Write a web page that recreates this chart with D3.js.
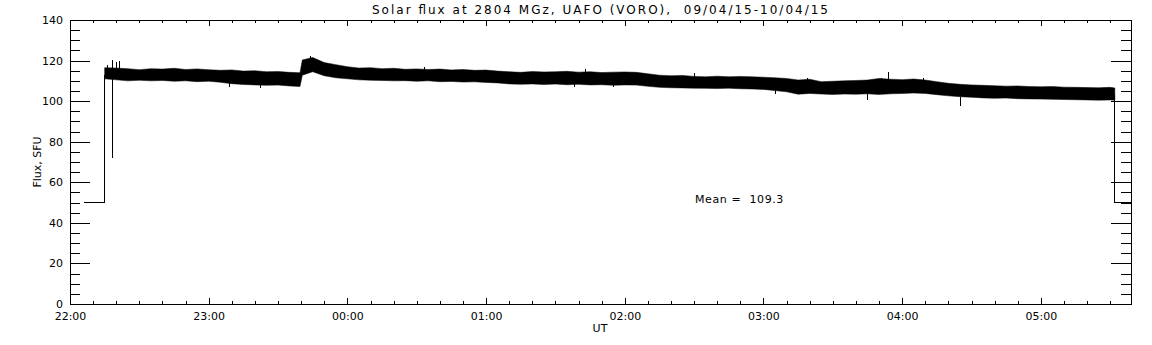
<!DOCTYPE html>
<html>
<head>
<meta charset="utf-8">
<script src="https://cdn.jsdelivr.net/npm/d3@7.9.0/dist/d3.min.js"></script>
<style>
  body { margin: 0; background: #fff; }
  svg { display: block; }
  text { font-family: "DejaVu Sans", sans-serif; fill: #000; white-space: pre; }
</style>
</head>
<body>
<svg id="chart" width="1152" height="345"></svg>
<script>
// minutes after 22:00 UT on 09/04/15
const sampleMinutes = [15, 20, 25, 30, 35, 40, 45, 50, 55, 60, 65, 70, 75, 80, 85, 90, 95,
  99.5, 100.5, 105, 110, 115, 120, 125, 130, 135, 140, 145, 150, 155, 160, 165, 170, 175, 180,
  185, 190, 195, 200, 205, 210, 215, 220, 225, 230, 235, 240, 245, 250, 255, 260, 265,
  270, 275, 280, 285, 290, 295, 300, 305, 310, 315, 320, 325, 330, 335, 340, 345, 350,
  355, 360, 365, 370, 375, 380, 385, 390, 395, 400, 405, 410, 415, 420, 425, 430, 435,
  440, 445, 450, 452];

// upper and lower edge of the noisy flux band, SFU
const fluxHigh = [116.5, 116.3, 116, 115.5, 116, 115.8, 116.2, 115.6, 115.9, 115.5, 115.2, 115.4,
  114.8, 115, 114.5, 114.6, 114.2, 114, 120.3, 121.5, 119, 118, 117, 116.3, 116.5, 116, 116.2,
  115.7, 115.9, 115.6, 115.8, 115.4, 115.6, 115.2, 115.3, 114.8, 114.5, 114.2, 114.6, 114.4,
  114.5, 114.7, 114.3, 114.5, 114.1, 114.3, 114.4, 114.2, 113.5, 112.8, 112.5, 112.7, 112.2,
  112, 112.3, 112, 112.2, 112, 111.8, 111.5, 111.2, 110.4, 110.8, 109.6, 109.8, 110, 110.2,
  110.4, 111.2, 110.8, 110.6, 110.9, 110.4, 109.6, 108.8, 108.3, 108, 107.8, 107.6, 107.4,
  107.5, 107.2, 107.1, 107.2, 106.9, 106.8, 106.7, 106.6, 106.8, 106.5];
const fluxLow = [111, 110.5, 110, 110.3, 110, 110.2, 109.8, 110, 109.6, 109.8, 109.3, 108.6,
  108.2, 108, 107.8, 107.9, 107.5, 107.2, 112.8, 114.5, 112.5, 111.5, 111, 110.5, 110.3, 110.2, 110,
  110.1, 109.8, 110, 109.6, 109.7, 109.4, 109.5, 109.2, 109, 108.5, 108.3, 108.5, 108.2,
  108.4, 108.1, 108.3, 108, 108.1, 107.8, 108, 107.9, 107.3, 106.8, 106.6, 106.5, 106.4,
  106.3, 106.2, 106.4, 106.1, 106, 105.8, 105.2, 104.6, 103.4, 103.8, 103.5, 103.3, 103.5,
  103.4, 103.6, 103.3, 103.6, 103.8, 104, 103.8, 103.2, 102.6, 102.2, 101.9, 101.6, 101.4,
  101.5, 101.2, 101.1, 101, 100.9, 100.8, 100.7, 100.6, 100.5, 100.6, 100.5];

// single spikes sticking out of the band
const spikeMinutes = [16, 18, 20, 21, 18, 104, 69, 82, 153, 218, 223, 235, 270, 305, 319, 351, 354, 369, 345, 385];
const spikeBase =    [114, 114, 114, 114, 111, 118, 110, 110, 113, 110, 112, 110, 110, 106, 108, 108, 110, 108, 104, 102];
const spikeTop =     [118, 120.2, 119.4, 119.9, 72, 122.3, 106.8, 106.6, 117, 107.1, 115.8, 107, 113.7, 103.4, 111.5, 111.5, 114.5, 111.5, 100.5, 97.6];

// receiver off (50 SFU) before and after the record
const startEdge = [[6, 50], [15, 50], [15, 113]];
const endEdge = [[452, 103], [452, 50], [459, 50]];

const yMajor = [0, 20, 40, 60, 80, 100, 120, 140];
const yMinor = d3.range(0, 141, 5);
const meanFlux = 109.3;

const title = 'Solar flux at 2804 MGz, UAFO (VORO),  09/04/15-10/04/15';

const t0 = Date.UTC(2015, 3, 9, 22, 0);
const toDate = m => new Date(t0 + m * 60000);

const margin = { left: 70, right: 1131, top: 20, bottom: 304 };
const svg = d3.select('#chart');

const x = d3.scaleUtc().domain([toDate(0), toDate(459)]).range([margin.left, margin.right]);
const y = d3.scaleLinear().domain([0, 140]).range([margin.bottom, margin.top]);

const hourTicks = x.ticks(d3.utcHour.every(1));
const minorTicks = x.ticks(d3.utcMinute.every(10));
const fmt = d3.utcFormat('%H:%M');

// data band
const band = sampleMinutes.map((m, i) => ({ t: toDate(m), hi: fluxHigh[i], lo: fluxLow[i] }));
const area = d3.area()
  .x(d => x(d.t))
  .y0(d => y(d.lo))
  .y1(d => y(d.hi));
svg.append('path').attr('d', area(band)).attr('fill', '#000').attr('stroke', '#000').attr('stroke-width', 0.5);

const line = d3.line().x(d => x(toDate(d[0]))).y(d => y(d[1]));
[startEdge, endEdge].forEach(pts => {
  svg.append('path').attr('d', line(pts)).attr('fill', 'none')
    .attr('stroke', '#000').attr('stroke-width', 1).attr('shape-rendering', 'crispEdges');
});

spikeMinutes.forEach((m, i) => {
  const px = Math.round(x(toDate(m))) + 0.5;
  svg.append('line')
    .attr('x1', px).attr('x2', px)
    .attr('y1', y(spikeBase[i])).attr('y2', y(spikeTop[i]))
    .attr('stroke', '#000').attr('stroke-width', 1).attr('shape-rendering', 'crispEdges');
});

// axes
function styleAxis(g) {
  g.select('.domain').remove();
  g.selectAll('line').attr('stroke', '#000').attr('shape-rendering', 'crispEdges');
  g.selectAll('text').attr('font-size', 11).attr('font-family', '"DejaVu Sans", sans-serif');
}

svg.append('g').attr('transform', `translate(${margin.left},0)`)
  .call(d3.axisLeft(y).tickValues(yMinor).tickSizeInner(-10).tickSizeOuter(0).tickFormat(''))
  .call(styleAxis);
svg.append('g').attr('transform', `translate(${margin.left},0)`)
  .call(d3.axisLeft(y).tickValues(yMajor).tickSizeInner(-20).tickSizeOuter(0).tickPadding(7))
  .call(styleAxis);
svg.append('g').attr('transform', `translate(${margin.right},0)`)
  .call(d3.axisRight(y).tickValues(yMinor).tickSizeInner(-10).tickSizeOuter(0).tickFormat(''))
  .call(styleAxis);
svg.append('g').attr('transform', `translate(${margin.right},0)`)
  .call(d3.axisRight(y).tickValues(yMajor).tickSizeInner(-20).tickSizeOuter(0).tickFormat(''))
  .call(styleAxis);

svg.append('g').attr('transform', `translate(0,${margin.bottom})`)
  .call(d3.axisBottom(x).tickValues(minorTicks).tickSizeInner(-3).tickSizeOuter(0).tickFormat(''))
  .call(styleAxis);
svg.append('g').attr('transform', `translate(0,${margin.bottom})`)
  .call(d3.axisBottom(x).tickValues(hourTicks).tickSizeInner(-6).tickSizeOuter(0).tickPadding(8).tickFormat(fmt))
  .call(styleAxis);
svg.append('g').attr('transform', `translate(0,${margin.top})`)
  .call(d3.axisTop(x).tickValues(minorTicks).tickSizeInner(-3).tickSizeOuter(0).tickFormat(''))
  .call(styleAxis);
svg.append('g').attr('transform', `translate(0,${margin.top})`)
  .call(d3.axisTop(x).tickValues(hourTicks).tickSizeInner(-6).tickSizeOuter(0).tickFormat(''))
  .call(styleAxis);

// frame
svg.append('rect')
  .attr('x', margin.left + 0.5).attr('y', margin.top + 0.5)
  .attr('width', margin.right - margin.left).attr('height', margin.bottom - margin.top)
  .attr('fill', 'none').attr('stroke', '#000').attr('shape-rendering', 'crispEdges');

// texts
svg.append('text').attr('x', 372).attr('y', 14).attr('font-size', 12)
  .attr('textLength', 456).attr('lengthAdjust', 'spacing').text(title);

svg.append('text').attr('x', 600).attr('y', 332).attr('font-size', 11)
  .attr('text-anchor', 'middle').text('UT');

svg.append('text').attr('transform', `translate(41,${(margin.top + margin.bottom) / 2}) rotate(-90)`)
  .attr('font-size', 11).attr('text-anchor', 'middle').text('Flux, SFU');

svg.append('text').attr('x', 695).attr('y', 203).attr('font-size', 11)
  .attr('letter-spacing', 0.6).text(`Mean =  ${meanFlux}`);
</script>
</body>
</html>
